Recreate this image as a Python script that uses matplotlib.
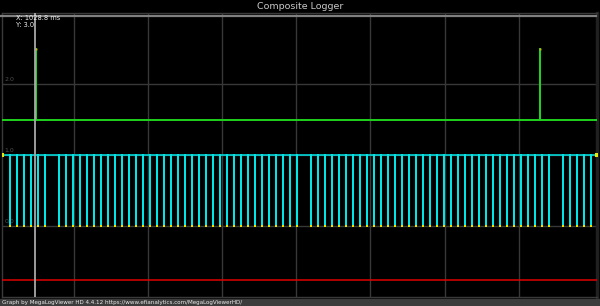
import matplotlib
matplotlib.use("Agg")
import matplotlib.pyplot as plt

# composite logger data (time in ms)
t_start = 1020.5
t_end = 1169.1
# crank tooth events (36-1 wheel), low pulses on the cyan trace
tooth_times = [
    1022.35, 1024.10, 1025.85, 1027.60, 1029.35, 1031.10,
    1034.60, 1036.35, 1038.10, 1039.85, 1041.60, 1043.35, 1045.10, 1046.85,
    1048.60, 1050.35, 1052.10, 1053.85, 1055.60, 1057.35, 1059.10, 1060.85,
    1062.60, 1064.35, 1066.10, 1067.85, 1069.60, 1071.35, 1073.10, 1074.85,
    1076.60, 1078.35, 1080.10, 1081.85, 1083.60, 1085.35, 1087.10, 1088.85,
    1090.60, 1092.35, 1094.10,
    1097.60, 1099.35, 1101.10, 1102.85, 1104.60, 1106.35, 1108.10, 1109.85,
    1111.60, 1113.35, 1115.10, 1116.85, 1118.60, 1120.35, 1122.10, 1123.85,
    1125.60, 1127.35, 1129.10, 1130.85, 1132.60, 1134.35, 1136.10, 1137.85,
    1139.60, 1141.35, 1143.10, 1144.85, 1146.60, 1148.35, 1150.10, 1151.85,
    1153.60, 1155.35, 1157.10,
    1160.60, 1162.35, 1164.10, 1165.85, 1167.60,
]
pulse_width = 0.12
crank_high = 1.0
crank_low = 0.0
# cam sync events (green trace)
sync_times = [1028.85, 1154.85]
sync_base = 1.5
sync_high = 2.5
red_level = -0.75

cursor_x = 1028.7
cursor_lines = ["X: 1028.8 ms", "Y: 3.0"]
ytick_vals = [0.0, 1.0, 2.0]

fig = plt.figure(figsize=(6.0, 3.06), dpi=100, facecolor="black")
ax = fig.add_axes([0.0038, 0.028, 0.9907, 0.9295])
ax.set_facecolor("black")
ax.set_xlim(t_start, t_end)
ax.set_ylim(-1, 3)
ax.set_xticks([])
ax.set_yticks([])
for s in ax.spines.values():
    s.set_color("#3a3a3a")
    s.set_linewidth(1.0)
ax.spines["right"].set_linewidth(2.5)
ax.spines["right"].set_color("#202020")

# grid
px = (t_end - t_start) / 594.4
for k in range(1, 8):
    ax.axvline(t_start + (74.1 * k - 2.3) * px, color="#383838", lw=1.0, zorder=1)
for v in ytick_vals:
    ax.axhline(v, color="#383838", lw=1.0, zorder=1)
for v in ytick_vals:
    ax.text(t_start + 0.6, v + 0.03, "%.1f" % v, color="#505050", fontsize=4.5,
            va="bottom", ha="left", zorder=2)

# red trace
ax.plot([t_start, t_end], [red_level, red_level], color="#e00000", lw=1.1, zorder=3)

# cyan crank trace
cx = [t_start]
cy = [crank_high]
for t in tooth_times:
    cx += [t, t, t + pulse_width, t + pulse_width]
    cy += [crank_high, crank_low, crank_low, crank_high]
cx.append(t_end)
cy.append(crank_high)
ax.plot(cx, cy, color="#00e6e6", lw=1.1, zorder=4, solid_joinstyle="miter")
ax.plot(tooth_times, [crank_low] * len(tooth_times), ls="none", marker="s",
        ms=1.6, color="#e8e800", mew=0, zorder=5)
ax.plot([t_start, t_end], [crank_high, crank_high], ls="none", marker="s",
        ms=2.2, color="#e8e800", mew=0, zorder=5)

# green sync trace
gx = [t_start]
gy = [sync_base]
for t in sync_times:
    gx += [t, t, t + pulse_width, t + pulse_width]
    gy += [sync_base, sync_high, sync_high, sync_base]
gx.append(t_end)
gy.append(sync_base)
ax.plot(gx, gy, color="#1fd21f", lw=1.4, zorder=4)
ax.plot(sync_times, [sync_high] * len(sync_times), ls="none", marker="s",
        ms=1.4, color="#c8b400", mew=0, zorder=5)

# gray bar under the title, then the cursor on top of it
ax.plot([0.0, 0.994], [0.9475, 0.9475], color="#808080", lw=1.6,
        transform=fig.transFigure, clip_on=False, zorder=6)
ax.axvline(cursor_x, color="#a8a8a8", lw=1.3, zorder=6.5)
for i, line in enumerate(cursor_lines):
    ax.text(t_start + 3.4, 2.925 - i * 0.092, line, color="#ececec", fontsize=4.8,
            va="center", ha="left", zorder=7, clip_on=False)

# header / footer
fig.text(0.5, 0.978, "Composite Logger", color="#c8c8c8", fontsize=6.8,
         ha="center", va="center")
fig.add_artist(plt.Rectangle((0, 0), 1, 0.022, color="#3c3c3c",
                             transform=fig.transFigure))
fig.text(0.004, 0.011, "Graph by MegaLogViewer HD 4.4.12 https://www.efianalytics.com/MegaLogViewerHD/",
         color="#e8e8e8", fontsize=4.1, ha="left", va="center")

fig.savefig("out.png", dpi=100, facecolor="black")
